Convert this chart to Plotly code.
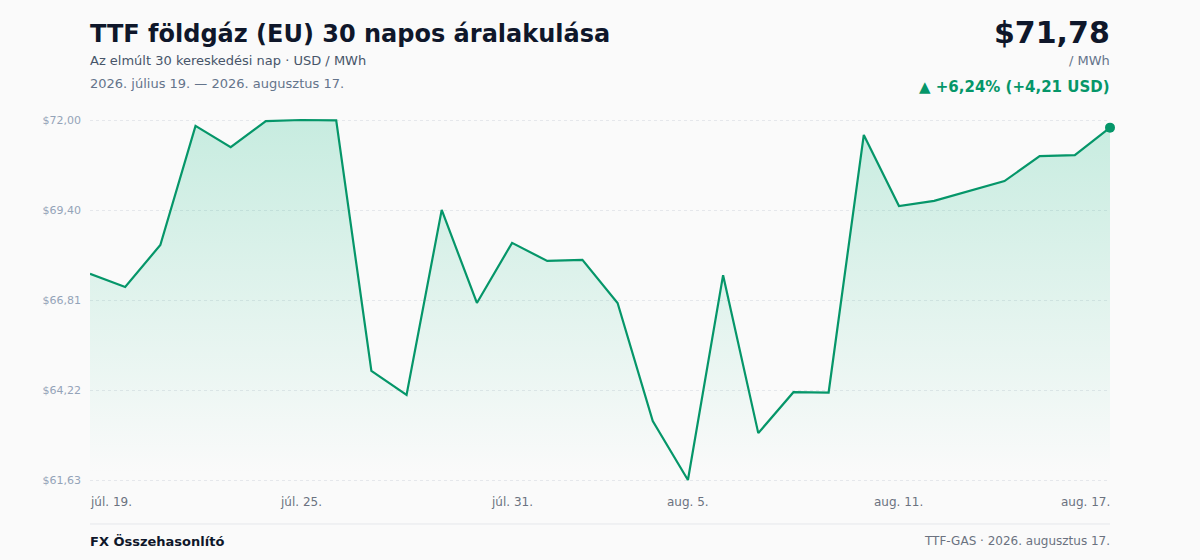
import plotly.graph_objects as go

# ---- data ----
dates = ["2026-07-%02d" % d for d in range(19, 32)] + ["2026-08-%02d" % d for d in range(1, 18)]
prices = [67.57, 67.19, 68.40, 71.83, 71.22, 71.97, 72.00, 71.99, 64.77, 64.08,
          69.41, 66.73, 68.46, 67.94, 67.97, 66.73, 63.33, 61.63, 67.53, 62.98,
          64.16, 64.15, 71.57, 69.52, 69.67, 69.95, 70.24, 70.96, 70.99, 71.78]
y_ticks = [61.63, 64.22, 66.81, 69.40, 72.00]
y_tick_text = ["$61,63", "$64,22", "$66,81", "$69,40", "$72,00"]
x_tick_dates = ["2026-07-19", "2026-07-25", "2026-07-31", "2026-08-05", "2026-08-11", "2026-08-17"]
x_tick_text = ["júl. 19.", "júl. 25.", "júl. 31.", "aug. 5.", "aug. 11.", "aug. 17."]

title = "TTF földgáz (EU) 30 napos áralakulása"
subtitle = "Az elmúlt 30 kereskedési nap · USD / MWh"
date_range_text = "2026. július 19. — 2026. augusztus 17."
last_price_text = "$71,78"
unit_text = "/ MWh"
change_text = "▲ +6,24% (+4,21 USD)"
footer_left = "FX Összehasonlító"
footer_right = "TTF-GAS · 2026. augusztus 17."

GREEN = "#059669"
FONT = "DejaVu Sans"
BG = "#fafafa"

W, H = 1200, 560
PL, PR = 90, 1110
PT, PB = 115, 485
pad = 0.144
yr = [min(prices) - pad, max(prices) + pad]


def py(p):
    return (PB - p) / (PB - PT)


def shift_for(anchor):
    return -2 if anchor == "left" else (2 if anchor == "right" else 0)


fig = go.Figure()
fig.add_trace(go.Scatter(
    x=dates, y=prices, mode="lines",
    line=dict(color=GREEN, width=2.2),
    fill="tozeroy",
    fillgradient=dict(type="vertical", start=yr[0] + 0.3, stop=yr[1],
                      colorscale=[[0, "rgba(16,185,129,0.0)"], [1, "rgba(16,185,129,0.22)"]]),
    hoverinfo="skip", showlegend=False,
))
fig.add_trace(go.Scatter(
    x=[dates[-1]], y=[prices[-1]], mode="markers",
    marker=dict(color=GREEN, size=10),
    cliponaxis=False, hoverinfo="skip", showlegend=False,
))

annotations = []
for i, (d, t) in enumerate(zip(x_tick_dates, x_tick_text)):
    anchor = "left" if i == 0 else ("right" if i == len(x_tick_dates) - 1 else "center")
    annotations.append(dict(x=d, y=0, xref="x", yref="paper", yanchor="top", yshift=-8,
                            xanchor=anchor, xshift=shift_for(anchor), text=t, showarrow=False,
                            font=dict(family=FONT, size=12, color="#6b7280")))

def txt(x, ypix, text, size, color, anchor="left", bold=False):
    annotations.append(dict(x=x, y=py(ypix), xref="paper", yref="paper",
                            xanchor=anchor, yanchor="middle", xshift=shift_for(anchor),
                            text=("<b>%s</b>" % text) if bold else text, showarrow=False,
                            font=dict(family=FONT, size=size, color=color)))

txt(0, 34, title, 24, "#0f172a", bold=True)
txt(0, 61, subtitle, 13, "#475569")
txt(0, 83, date_range_text, 13, "#64748b")
txt(1, 32, last_price_text, 30, "#0f172a", anchor="right", bold=True)
txt(1, 61, unit_text, 13, "#64748b", anchor="right")
txt(1, 87, change_text, 15, GREEN, anchor="right", bold=True)
txt(0, 541, footer_left, 13, "#0f172a", bold=True)
txt(1, 541, footer_right, 12, "#6b7280", anchor="right")

fig.update_layout(
    width=W, height=H,
    margin=dict(l=PL, r=W - PR, t=PT, b=H - PB),
    paper_bgcolor=BG, plot_bgcolor=BG,
    font=dict(family=FONT),
    annotations=annotations,
    hovermode=False,
    shapes=[dict(type="line", xref="paper", yref="paper", x0=0, x1=1,
                 y0=py(524), y1=py(524), line=dict(color="#e5e7eb", width=1))],
    xaxis=dict(range=[dates[0], dates[-1]], showgrid=False, showticklabels=False,
               zeroline=False, showline=False, fixedrange=True),
    yaxis=dict(range=yr, tickvals=y_ticks, ticktext=y_tick_text,
               showgrid=True, gridcolor="#e5e7eb", griddash="dot", gridwidth=1,
               zeroline=False, showline=False, ticks="", ticklabelstandoff=8,
               fixedrange=True,
               tickfont=dict(family=FONT, size=11, color="#94a3b8")),
)

fig.write_html("out.html", config={"displayModeBar": False},
               post_script="document.body.style.margin='0';document.body.style.background='%s';" % BG)
